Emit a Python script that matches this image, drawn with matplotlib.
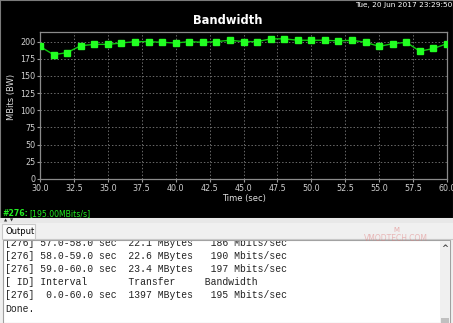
import matplotlib
matplotlib.use("Agg")
import matplotlib.pyplot as plt
from matplotlib.patches import Rectangle

# ---- data ----
times = list(range(30, 61))
bandwidth = [193, 181, 184, 194, 196, 196, 198, 200, 200, 199,
             198, 200, 199, 200, 202, 200, 200, 204, 204, 202,
             202, 202, 201, 202, 199, 193, 197, 199, 186, 190, 197]
x_ticks = [30.0, 32.5, 35.0, 37.5, 40.0, 42.5, 45.0, 47.5, 50.0, 52.5, 55.0, 57.5, 60.0]
y_ticks = [0, 25, 50, 75, 100, 125, 150, 175, 200]
title = "Bandwidth"
timestamp = "Tue, 20 Jun 2017 23:29:50"
x_label = "Time (sec)"
y_label = "MBits (BW)"
status_id = "#276:"
status_val = "[195.00MBits/s]"
output_lines = [
    "[276] 57.0-58.0 sec  22.1 MBytes   186 Mbits/sec",
    "[276] 58.0-59.0 sec  22.6 MBytes   190 Mbits/sec",
    "[276] 59.0-60.0 sec  23.4 MBytes   197 Mbits/sec",
    "[ ID] Interval       Transfer     Bandwidth",
    "[276]  0.0-60.0 sec  1397 MBytes   195 Mbits/sec",
    "Done.",
]

W, H = 453, 323
fig = plt.figure(figsize=(W / 100, H / 100), dpi=100)

def fbox(x0, y0, x1, y1):
    # pixel box (top-left origin) -> figure fraction rect
    return [x0 / W, 1 - y1 / H, (x1 - x0) / W, (y1 - y0) / H]

# background axes in pixel coordinates
bg = fig.add_axes([0, 0, 1, 1])
bg.set_xlim(0, W)
bg.set_ylim(H, 0)
bg.axis("off")
bg.add_patch(Rectangle((0, 0), W, 218, facecolor="black", edgecolor="#7a7a7a", lw=0.8))
bg.add_patch(Rectangle((0, 218), W, 5, facecolor="#e8e8e8", edgecolor="none"))
bg.text(4, 220.5, "\u25B2", fontsize=3, color="#333333", ha="left", va="center")
bg.text(10, 220.5, "\u25BC", fontsize=3, color="#333333", ha="left", va="center")
bg.add_patch(Rectangle((0, 223), W, 100, facecolor="#f0f0f0", edgecolor="none"))
bg.add_patch(Rectangle((2, 224), 33, 15, facecolor="#fbfbfb", edgecolor="#c8c8c8", lw=0.8))
bg.plot([35, W], [239, 239], color="#c8c8c8", lw=0.8)
bg.text(6, 231.5, "Output", fontsize=6.0, color="black", ha="left", va="center",
        family="DejaVu Sans")
# text area
bg.add_patch(Rectangle((3, 240), 447, 83, facecolor="white", edgecolor="#a0a0a0", lw=0.8))
bg.add_patch(Rectangle((440, 241), 10, 82, facecolor="#f0f0f0", edgecolor="none"))
bg.add_patch(Rectangle((441, 318), 8, 5, facecolor="#c0c0c0", edgecolor="none"))
bg.text(445, 248.5, "^", fontsize=6, color="#444444", ha="center", va="center", weight="bold")

# header texts
bg.text(452, 5, timestamp, fontsize=5.3, color="white", ha="right", va="center")
bg.text(228, 20, title, fontsize=8.3, color="white", ha="center", va="center", weight="bold")
bg.text(244, 199, x_label, fontsize=6.0, color="#e0e0e0", ha="center", va="center")
bg.text(12, 97, y_label, fontsize=6.0, color="#e0e0e0", ha="center", va="center", rotation=90)
t1 = bg.text(2, 214, status_id, fontsize=5.6, color="#22ee22", ha="left", va="center", weight="bold")
bg.annotate(status_val, xy=(1, 0.5), xycoords=t1, xytext=(2, 0), textcoords="offset pixels",
            fontsize=5.6, color="#22ee22", ha="left", va="center")

# watermark text
bg.text(396, 230, "M", fontsize=5, color="#e08080", ha="center", va="center", alpha=0.6)
bg.text(396, 238.5, "VMODTECH.COM", fontsize=5.5, color="#e08080", ha="center", va="center", alpha=0.5)

# ---- chart ----
ax = fig.add_axes(fbox(40, 32, 447, 179))
ax.set_facecolor("black")
ax.plot(times, bandwidth, color="#10c810", lw=1.0, marker="s", markersize=3.7,
        markerfacecolor="#22ff22", markeredgecolor="#22ff22", zorder=3)
ax.set_xlim(30, 60)
ax.set_ylim(0, 214)
ax.set_xticks(x_ticks)
ax.set_xticklabels([f"{v:.1f}" for v in x_ticks])
ax.set_yticks(y_ticks)
ax.tick_params(colors="#9a9a9a", labelcolor="#d0d0d0", labelsize=5.8, length=2, width=0.8, pad=1.5)
ax.grid(True, color="#6a6a6a", linestyle=(0, (1.5, 2)), lw=0.7)
for s in ax.spines.values():
    s.set_color("#8a8a8a")
    s.set_linewidth(0.9)

# ---- output text area (clipped) ----
ta = fig.add_axes(fbox(4, 241, 439, 323))
ta.set_xlim(4, 439)
ta.set_ylim(323, 241)
ta.axis("off")
y0 = 242.5
for i, line in enumerate(output_lines):
    ta.text(5, y0 + i * 13.25, line, fontsize=7.0, family="Liberation Mono", color="#222222",
            ha="left", va="center", clip_on=True)

fig.savefig("out.png", dpi=100)
